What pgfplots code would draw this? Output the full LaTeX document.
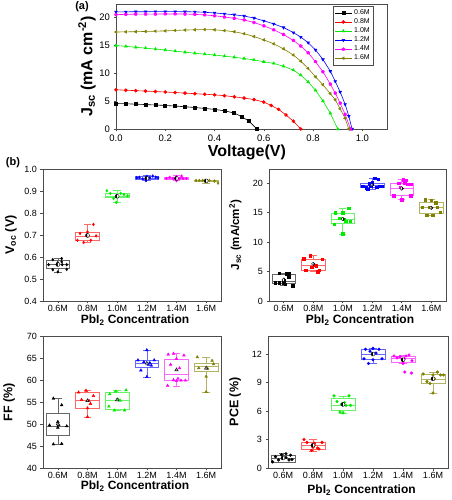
\documentclass[border=0pt]{standalone}
\usepackage{fontspec}
\setmainfont{Liberation Sans}
\usepackage{pgfplots}
\pgfplotsset{compat=1.18}
\usepgfplotslibrary{statistics}
\usetikzlibrary{plotmarks}
\definecolor{cblack}{RGB}{0,0,0}
\definecolor{cred}{RGB}{255,0,0}
\definecolor{cgreen}{RGB}{0,235,0}
\definecolor{cblue}{RGB}{0,0,255}
\definecolor{cmag}{RGB}{255,0,255}
\definecolor{colive}{RGB}{128,128,0}
\pgfplotsset{
  common/.style={scale only axis, anchor=south west,
    tick align=outside, xtick pos=bottom, ytick pos=left,
    axis line style={draw=black!70, line width=0.7pt},
    tick style={black!70, line width=0.6pt}, major tick length=2.5pt,
    /pgf/number format/assume math mode=true,
    xlabel style={anchor=center}, ylabel style={anchor=center}},
  boxax/.style={common, xmin=-0.5, xmax=5.5, xtick={0,1,2,3,4,5},
    xticklabels={0.6M,0.8M,1.0M,1.2M,1.4M,1.6M},
    boxplot/draw direction=y,
    ticklabel style={font=\fontsize{9}{10}\selectfont},
    xticklabel style={inner sep=1.5pt},
    xlabel={\textbf{PbI\textsubscript{2} Concentration}},
    xlabel style={font=\fontsize{12}{14}\selectfont},
    ylabel style={font=\fontsize{12.5}{14}\selectfont}},
  pts/.style={only marks, mark size=1.4pt, mark options={solid}},
}
\newcommand{\bx}[7]{\addplot[#1!60, solid, line width=0.6pt, boxplot prepared={draw position=#2, lower whisker=#3, lower quartile=#4, median=#5, upper quartile=#6, upper whisker=#7, box extend=0.8, whisker extend=0.25}] coordinates {};}
\begin{document}
\begin{tikzpicture}
\path[use as bounding box] (0pt,0pt) rectangle (451pt,500pt);
\node[font=\bfseries\fontsize{11}{12}\selectfont] at (82pt,493pt) {(a)};
\node[font=\bfseries\fontsize{11}{12}\selectfont] at (13pt,337pt) {(b)};
% ---------------- panel (a)
\begin{axis}[common, at={(116pt,371pt)}, width=271pt, height=125pt,
  xmin=0, xmax=1.1, ymin=0, ymax=22.3,
  xtick={0,0.2,0.4,0.6,0.8,1.0}, ytick={0,5,10,15,20},
  xticklabel style={/pgf/number format/.cd, fixed, fixed zerofill, precision=1},
  ticklabel style={font=\fontsize{9.5}{10}\selectfont},
  xlabel={\textbf{Voltage(V)}}, xlabel style={font=\fontsize{16}{18}\selectfont, at={(axis description cs:0.483,-0.19)}},
  ylabel={\textbf{J\textsubscript{sc} (mA cm\textsuperscript{-2})}}, ylabel style={font=\fontsize{16}{18}\selectfont, at={(axis description cs:-0.107,0.5)}},
  legend style={at={(0.80,0.984)}, anchor=north west, font=\fontsize{7}{7.5}\selectfont, draw=black!70, row sep=-1.3pt, inner sep=1.5pt},
  legend cell align=left,
  every axis plot/.append style={line width=0.6pt, mark size=1.5pt}]
\addplot[cblack, mark=square*] coordinates {(0.00,4.55)(0.04,4.50)(0.08,4.43)(0.12,4.36)(0.16,4.28)(0.20,4.20)(0.24,4.09)(0.28,3.97)(0.32,3.83)(0.36,3.67)(0.40,3.50)(0.44,3.24)(0.48,2.85)(0.51,2.20)(0.54,1.40)(0.572,0)};
\addlegendentry{0.6M}
\addplot[cred, mark=*] coordinates {(0.00,7.00)(0.04,6.92)(0.08,6.84)(0.12,6.76)(0.16,6.68)(0.20,6.60)(0.24,6.50)(0.28,6.40)(0.32,6.30)(0.36,6.20)(0.40,6.10)(0.44,5.94)(0.48,5.74)(0.52,5.52)(0.56,5.25)(0.60,4.80)(0.63,4.20)(0.66,3.50)(0.69,2.50)(0.72,1.40)(0.75,0)};
\addlegendentry{0.8M}
\addplot[cgreen, mark=triangle*] coordinates {(0.00,14.90)(0.04,14.74)(0.08,14.58)(0.12,14.42)(0.16,14.26)(0.20,14.10)(0.24,13.90)(0.28,13.70)(0.32,13.52)(0.36,13.36)(0.40,13.20)(0.44,13.00)(0.48,12.80)(0.52,12.58)(0.56,12.32)(0.60,12.00)(0.64,11.70)(0.68,11.20)(0.72,10.50)(0.75,9.60)(0.78,8.40)(0.81,6.90)(0.84,5.00)(0.87,2.80)(0.90,0)};
\addlegendentry{1.0M}
\addplot[cblue, mark=triangle*, mark options={rotate=180}] coordinates {(0.00,20.90)(0.04,20.90)(0.08,20.92)(0.12,20.92)(0.16,20.93)(0.20,20.93)(0.24,20.93)(0.28,20.92)(0.32,20.90)(0.36,20.82)(0.40,20.70)(0.44,20.55)(0.48,20.38)(0.52,20.15)(0.56,19.80)(0.60,19.30)(0.64,18.75)(0.68,18.10)(0.72,17.20)(0.75,16.40)(0.78,15.40)(0.81,14.10)(0.84,12.40)(0.87,10.30)(0.89,8.50)(0.91,6.60)(0.93,4.40)(0.945,2.30)(0.958,0)};
\addlegendentry{1.2M}
\addplot[cmag, mark=pentagon*] coordinates {(0.00,20.40)(0.04,20.45)(0.08,20.48)(0.12,20.50)(0.16,20.50)(0.20,20.52)(0.24,20.52)(0.28,20.50)(0.32,20.45)(0.36,20.35)(0.40,20.20)(0.44,19.98)(0.48,19.75)(0.52,19.45)(0.56,19.00)(0.60,18.40)(0.64,17.70)(0.68,16.85)(0.72,15.80)(0.75,14.80)(0.78,13.60)(0.81,12.00)(0.84,10.20)(0.87,8.00)(0.89,6.40)(0.91,4.60)(0.93,2.60)(0.952,0)};
\addlegendentry{1.4M}
\addplot[colive, mark=triangle*, mark options={rotate=90}] coordinates {(0.00,17.30)(0.04,17.33)(0.08,17.36)(0.12,17.40)(0.16,17.45)(0.20,17.50)(0.24,17.58)(0.28,17.65)(0.32,17.70)(0.36,17.74)(0.40,17.70)(0.44,17.55)(0.48,17.35)(0.52,17.00)(0.56,16.50)(0.60,15.90)(0.64,15.20)(0.68,14.30)(0.72,13.20)(0.75,12.10)(0.78,10.80)(0.81,9.30)(0.84,7.90)(0.87,6.30)(0.89,5.20)(0.91,3.60)(0.93,1.90)(0.945,0)};
\addlegendentry{1.6M}
\end{axis}
% ---------------- Voc
\begin{axis}[boxax, at={(43pt,199pt)}, width=178pt, height=132pt,
  ymin=0.4, ymax=1.0, ytick={0.4,0.5,0.6,0.7,0.8,0.9,1.0},
  yticklabel style={/pgf/number format/.cd, fixed, fixed zerofill, precision=1},
  ylabel={\textbf{V\textsubscript{oc} (V)}},
  ylabel style={at={(axis description cs:-0.18,0.5)}},
  xlabel style={at={(axis description cs:0.517,-0.145)}}]
\bx{black}{0}{0.532}{0.548}{0.565}{0.584}{0.593}
\bx{cred}{1}{0.666}{0.676}{0.696}{0.714}{0.748}
\bx{cgreen}{2}{0.848}{0.871}{0.877}{0.889}{0.901}
\bx{cblue}{3}{0.947}{0.954}{0.960}{0.966}{0.970}
\bx{cmag}{4}{0.947}{0.952}{0.957}{0.962}{0.970}
\bx{colive}{5}{0.936}{0.946}{0.948}{0.950}{0.950}
\addplot[pts, mark=diamond*, black] coordinates {(-0.31,0.565)(-0.17,0.588)(-0.17,0.542)(0,0.574)(0,0.532)(0.13,0.593)(0.15,0.565)(0.3,0.565)(0.3,0.544)(0.13,0.578)};
\addplot[pts, mark=diamond*, cred] coordinates {(0.66,0.676)(0.75,0.707)(0.87,0.666)(1.0,0.714)(1.03,0.696)(1.11,0.676)(1.2,0.748)(1.29,0.696)};
\addplot[pts, mark=diamond*, cgreen] coordinates {(1.65,0.901)(1.77,0.889)(1.88,0.866)(1.97,0.848)(2.0,0.878)(2.12,0.889)(2.23,0.884)(2.35,0.878)};
\addplot[pts, mark=diamond*, cblue] coordinates {(2.66,0.960)(2.75,0.962)(2.86,0.955)(2.97,0.947)(3.0,0.966)(3.1,0.960)(3.2,0.968)(3.3,0.963)(3.38,0.960)};
\addplot[pts, mark=diamond*, cmag] coordinates {(3.66,0.957)(3.77,0.962)(3.88,0.957)(4.0,0.965)(4.0,0.947)(4.11,0.957)(4.22,0.957)(4.33,0.957)(4.17,0.968)};
\addplot[pts, mark=diamond*, colive] coordinates {(4.66,0.948)(4.77,0.948)(4.88,0.948)(5.0,0.946)(5.11,0.948)(5.28,0.945)(5.4,0.936)};
\addplot[only marks, mark=halfcircle*, mark size=2pt, mark options={draw=black, fill=black, rotate=90}, mark color=white] coordinates {(0,0.566)(1,0.698)(2,0.876)(3,0.958)(4,0.957)(5,0.946)};
\end{axis}
% ---------------- Jsc
\begin{axis}[boxax, at={(269pt,199pt)}, width=177pt, height=132pt,
  ymin=0, ymax=22.4, ytick={0,5,10,15,20},
  ylabel={\textbf{J\textsubscript{sc} (mA/cm\textsuperscript{2})}},
  ylabel style={at={(axis description cs:-0.19,0.5)}, font=\fontsize{11.5}{13}\selectfont},
  xlabel style={at={(axis description cs:0.514,-0.145)}}]
\bx{black}{0}{2.6}{3.0}{3.4}{4.5}{4.7}
\bx{cred}{1}{5.0}{5.2}{6.1}{7.05}{7.8}
\bx{cgreen}{2}{11.4}{13.2}{13.9}{14.9}{15.7}
\bx{cblue}{3}{19.0}{19.3}{19.7}{20.0}{20.8}
\bx{cmag}{4}{17.2}{18.0}{19.1}{20.0}{20.6}
\bx{colive}{5}{14.6}{14.9}{15.9}{16.8}{17.2}
\addplot[pts, mark=square*, mark size=1.2pt, black] coordinates {(-0.3,3.1)(-0.15,3.1)(-0.15,4.7)(0,3.5)(0,3.1)(0.05,2.9)(0.17,4.7)(0.17,4.1)(0.3,2.6)(0.1,4.6)};
\addplot[pts, mark=square*, mark size=1.2pt, cred] coordinates {(0.68,7.2)(0.75,5.2)(0.9,7.7)(0.95,5.7)(1.05,6.1)(1.1,6.0)(1.15,5.0)(1.3,7.1)(1.2,5.2)};
\addplot[pts, mark=square*, mark size=1.2pt, cgreen] coordinates {(1.7,13.0)(1.75,15.0)(1.9,14.0)(2.0,11.4)(2.0,15.0)(2.05,13.9)(2.2,15.7)(2.25,13.5)(2.1,13.5)};
\addplot[pts, mark=square*, mark size=1.2pt, cblue] coordinates {(2.67,19.5)(2.8,19.2)(2.9,19.9)(2.95,19.5)(3.0,20.1)(3.08,20.8)(3.15,19.3)(3.2,20.7)(3.25,19.5)(3.33,19.5)(2.85,19.0)};
\addplot[pts, mark=square*, mark size=1.2pt, cmag] coordinates {(3.7,17.9)(3.75,17.9)(3.9,20.0)(3.95,19.3)(4.0,17.2)(4.05,20.6)(4.1,20.1)(4.15,20.5)(4.2,19.8)(4.3,17.9)(4.3,19.8)};
\addplot[pts, mark=square*, mark size=1.2pt, colive] coordinates {(4.7,15.9)(4.8,17.2)(4.85,14.6)(4.95,15.9)(5.0,17.1)(5.05,14.6)(5.15,16.7)(5.2,15.9)(5.3,15.1)};
\addplot[only marks, mark=halfsquare*, mark size=1.8pt, mark options={draw=black, fill=black, rotate=90}, mark color=white] coordinates {(0,3.6)(1,6.3)(2,13.9)(3,19.7)(4,19.1)(5,15.8)};
\end{axis}
% ---------------- FF
\begin{axis}[boxax, at={(43pt,32pt)}, width=178pt, height=132pt,
  ymin=40, ymax=70, ytick={40,45,50,55,60,65,70},
  ylabel={\textbf{FF (\%)}},
  ylabel style={at={(axis description cs:-0.19,0.5)}},
  xlabel style={at={(axis description cs:0.517,-0.14)}}]
\bx{black}{0}{45.3}{47.4}{49.5}{52.4}{55.8}
\bx{cred}{1}{51.6}{53.5}{55.3}{57.2}{57.7}
\bx{cgreen}{2}{53.1}{53.4}{55.3}{57.1}{57.7}
\bx{cblue}{3}{60.6}{62.9}{63.8}{64.5}{66.8}
\bx{cmag}{4}{58.5}{60.0}{61.3}{64.7}{66.0}
\bx{colive}{5}{57.3}{61.9}{63.2}{63.9}{65.2}
\addplot[pts, mark=triangle*, mark size=1.6pt, black] coordinates {(-0.28,49.7)(-0.15,45.4)(-0.15,55.8)(0,49.2)(0,50.5)(0.13,45.5)(0.13,54.3)(0.3,49.5)(0.03,49.8)};
\addplot[pts, mark=triangle*, mark size=1.6pt, cred] coordinates {(0.7,57.2)(0.8,55.5)(0.95,57.6)(1.0,53.6)(1.0,51.6)(1.1,54.6)(1.2,56.4)(1.05,55.3)};
\addplot[pts, mark=triangle*, mark size=1.6pt, cgreen] coordinates {(1.72,54.0)(1.75,56.8)(1.9,53.1)(1.95,57.4)(2.05,55.5)(2.1,55.3)(2.25,53.1)(2.3,57.7)};
\addplot[pts, mark=triangle*, mark size=1.6pt, cblue] coordinates {(2.7,64.5)(2.8,62.2)(2.9,64.1)(3.0,66.8)(3.0,60.7)(3.05,63.5)(3.15,63.3)(3.25,64.5)(3.1,63.9)};
\addplot[pts, mark=triangle*, mark size=1.6pt, cmag] coordinates {(3.7,58.7)(3.72,65.8)(3.8,63.5)(3.9,66.0)(3.9,60.0)(4.0,59.8)(4.0,64.8)(4.05,60.3)(4.1,62.7)(4.15,59.9)(4.25,65.6)(4.3,59.9)};
\addplot[pts, mark=triangle*, mark size=1.6pt, colive] coordinates {(4.7,65.2)(4.75,62.7)(5.0,60.8)(5.0,57.3)(5.05,62.6)(5.2,64.4)(5.25,63.6)};
\addplot[only marks, mark=triangle*, mark size=2pt, mark options={draw=black, fill=black!35}] coordinates {(0,50.0)(1,55.3)(2,55.5)(3,63.8)(4,62.3)(5,62.7)};
\end{axis}
% ---------------- PCE
\begin{axis}[boxax, at={(268pt,32pt)}, width=180pt, height=132pt,
  ymin=0, ymax=13.9, ytick={0,3,6,9,12},
  ylabel={\textbf{PCE (\%)}},
  ylabel style={at={(axis description cs:-0.183,0.5)}},
  xlabel style={at={(axis description cs:0.52,-0.165)}}]
\bx{black}{0}{0.6}{0.64}{1.06}{1.34}{1.5}
\bx{cred}{1}{1.8}{1.98}{2.4}{2.75}{3.0}
\bx{cgreen}{2}{5.8}{6.1}{6.6}{7.34}{7.6}
\bx{cblue}{3}{11.0}{11.4}{12.0}{12.5}{12.6}
\bx{cmag}{4}{11.0}{11.15}{11.5}{11.75}{11.9}
\bx{colive}{5}{7.9}{8.9}{9.35}{9.9}{10.1}
\addplot[pts, mark=*, black] coordinates {(-0.35,0.65)(-0.25,1.2)(-0.15,0.85)(-0.05,1.4)(0,1.0)(0.1,1.5)(0.2,0.85)(0.25,1.35)(0.3,0.9)(0.1,1.1)};
\addplot[pts, mark=*, cred] coordinates {(0.7,3.0)(0.8,2.7)(0.95,1.85)(1.0,2.2)(1.05,2.6)(1.15,2.1)(1.2,2.0)(1.3,2.7)(1.05,2.4)};
\addplot[pts, mark=*, cgreen] coordinates {(1.7,7.6)(1.8,7.0)(1.9,5.9)(2.0,5.8)(2.05,6.9)(2.1,6.6)(2.2,7.6)(2.25,6.6)(1.95,6.7)};
\addplot[pts, mark=*, cblue] coordinates {(2.7,11.5)(2.75,12.5)(2.85,11.0)(2.9,12.3)(3.0,11.4)(3.0,12.6)(3.1,12.1)(3.2,12.5)(3.3,11.5)};
\addplot[pts, mark=*, cmag] coordinates {(3.7,11.8)(3.8,11.6)(3.9,11.7)(4.0,11.0)(4.0,11.3)(4.05,11.5)(4.1,11.8)(4.2,11.9)(4.3,11.3)(4.28,10.0)(4.06,10.1)};
\addplot[pts, mark=*, colive] coordinates {(4.67,9.9)(4.8,9.1)(4.9,8.9)(5.0,7.9)(5.0,9.8)(5.05,9.4)(5.15,10.1)(5.25,9.8)(5.35,9.8)};
\addplot[only marks, mark=halfcircle*, mark size=2pt, mark options={draw=black, fill=black, rotate=90}, mark color=white] coordinates {(0,1.05)(1,2.4)(2,6.7)(3,12.0)(4,11.4)(5,9.4)};
\end{axis}
\end{tikzpicture}
\end{document}
